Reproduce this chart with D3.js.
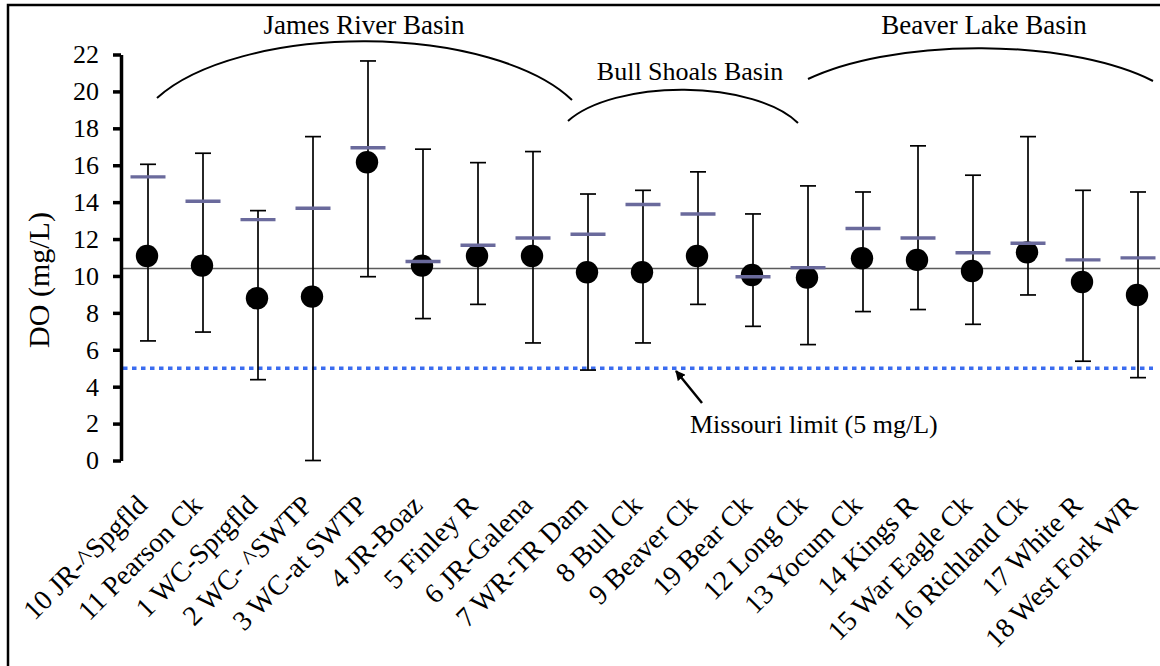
<!DOCTYPE html>
<html>
<head>
<meta charset="utf-8">
<script src="https://cdn.jsdelivr.net/npm/d3@7"></script>
<style>
  html, body { margin: 0; padding: 0; background: #fff; }
  svg { display: block; }
  svg text { font-family: "Liberation Serif", "Times New Roman", serif !important; fill: #000; }
</style>
</head>
<body>
<svg id="chart" width="1160" height="666"></svg>
<script>
// ---- data ----
const categories = ["10 JR-^Spgfld", "11 Pearson Ck", "1 WC-Sprgfld", "2 WC- ^SWTP", "3 WC-at SWTP",
  "4 JR-Boaz", "5 Finley R", "6 JR-Galena", "7 WR-TR Dam", "8 Bull Ck", "9 Beaver Ck", "19 Bear Ck",
  "12 Long Ck", "13 Yocum Ck", "14 Kings R", "15 War Eagle Ck", "16 Richland Ck", "17 White R", "18 West Fork WR"];
const medianValues = [11.08, 10.56, 8.79, 8.88, 16.16, 10.56, 11.08, 11.08, 10.2, 10.2, 11.08, 10.05, 9.91, 10.96, 10.87, 10.27, 11.28, 9.67, 8.97];
const meanValues   = [15.37, 14.05, 13.05, 13.67, 16.95, 10.78, 11.66, 12.06, 12.26, 13.87, 13.36, 9.96, 10.45, 12.57, 12.06, 11.26, 11.77, 10.87, 10.98];
const maxValues    = [16.05, 16.65, 13.54, 17.55, 21.65, 16.87, 16.14, 16.74, 14.44, 14.64, 15.64, 13.36, 14.88, 14.55, 17.05, 15.46, 17.55, 14.64, 14.55];
const minValues    = [6.48, 6.96, 4.38, 0, 9.96, 7.69, 8.46, 6.37, 4.9, 6.37, 8.46, 7.27, 6.28, 8.07, 8.18, 7.38, 8.97, 5.38, 4.49];
const yTicks = [0, 2, 4, 6, 8, 10, 12, 14, 16, 18, 20, 22];
const overallMean = 10.4;
const missouriLimit = 5;
const basinLabels = ["James River Basin", "Bull Shoals Basin", "Beaver Lake Basin"];
const yTitle = "DO (mg/L)";
const limitLabel = "Missouri limit (5 mg/L)";

// ---- layout ----
const svg = d3.select("#chart");
const axisX = 121;
const x = d3.scaleBand().domain(categories).range([120.5, 1165.5]).paddingInner(0).paddingOuter(0);
const cx = c => x(c) + x.bandwidth() / 2;
const y = d3.scaleLinear().domain([0, 22]).range([460.5, 54.5]);

const rows = categories.map((c, i) => ({ c, med: medianValues[i], mean: meanValues[i], max: maxValues[i], min: minValues[i] }));

// outer border (cropped on right/bottom)
svg.append("rect").attr("x", 8).attr("y", 5).attr("width", 1200).attr("height", 700)
  .attr("fill", "none").attr("stroke", "#000").attr("stroke-width", 2.5);

// overall mean line
svg.append("line").attr("x1", axisX).attr("x2", 1160).attr("y1", y(overallMean)).attr("y2", y(overallMean))
  .attr("stroke", "#5a5a5a").attr("stroke-width", 1.6);

// Missouri limit dotted
svg.append("line").attr("x1", axisX + 2).attr("x2", 1153).attr("y1", y(missouriLimit)).attr("y2", y(missouriLimit))
  .attr("stroke", "#3a6cf0").attr("stroke-width", 3.5).attr("stroke-dasharray", "4.5,4.5");

// error bars
const eb = svg.append("g").attr("stroke", "#000").attr("stroke-width", 1.7);
eb.selectAll("line.v").data(rows).join("line").attr("class", "v")
  .attr("x1", d => cx(d.c)).attr("x2", d => cx(d.c)).attr("y1", d => y(d.max)).attr("y2", d => y(d.min));
eb.selectAll("line.t").data(rows).join("line").attr("class", "t")
  .attr("x1", d => cx(d.c) - 8).attr("x2", d => cx(d.c) + 8).attr("y1", d => y(d.max)).attr("y2", d => y(d.max));
eb.selectAll("line.b").data(rows).join("line").attr("class", "b")
  .attr("x1", d => cx(d.c) - 8).attr("x2", d => cx(d.c) + 8).attr("y1", d => y(d.min)).attr("y2", d => y(d.min));

// median dots
svg.append("g").selectAll("circle").data(rows).join("circle")
  .attr("cx", d => cx(d.c) - 1).attr("cy", d => y(d.med)).attr("r", 11.2).attr("fill", "#000");

// mean dashes
svg.append("g").selectAll("line").data(rows).join("line")
  .attr("x1", d => cx(d.c) - 17.5).attr("x2", d => cx(d.c) + 17.5)
  .attr("y1", d => y(d.mean)).attr("y2", d => y(d.mean))
  .attr("stroke", "#6a6a9c").attr("stroke-width", 3.4);

// y axis
const yAxis = svg.append("g").attr("transform", `translate(${axisX},0)`)
  .call(d3.axisLeft(y).tickValues(yTicks).tickSize(8).tickSizeOuter(0).tickPadding(14));
yAxis.attr("font-family", null).attr("font-size", null);
yAxis.select(".domain").attr("stroke", "#000").attr("stroke-width", 3.5);
yAxis.selectAll(".tick line").attr("stroke", "#000").attr("stroke-width", 3.5);
yAxis.selectAll(".tick text").style("font-size", "26px");

// y title
svg.append("text").attr("transform", "translate(49,280) rotate(-90)").attr("text-anchor", "middle")
  .style("font-size", "30px").text(yTitle);

// x axis labels
const xAxis = svg.append("g").attr("transform", "translate(0,500)")
  .call(d3.axisBottom(x).tickSize(0).tickPadding(0));
xAxis.attr("font-family", null).attr("font-size", null);
xAxis.select(".domain").remove();
xAxis.selectAll(".tick text")
  .style("font-size", "28px")
  .attr("x", 0).attr("y", 0).attr("dy", "0.35em").attr("text-anchor", "end")
  .attr("transform", "translate(-6,0) rotate(-45)");

// basin arcs
const arcs = [
  { p: "M157,98 A229,100 0 0,1 572,100" },
  { p: "M568,121 A127,56 0 0,1 798,123" },
  { p: "M808,79 A216,80 0 0,1 1153,81" }
];
svg.append("g").selectAll("path").data(arcs).join("path").attr("d", d => d.p)
  .attr("fill", "none").attr("stroke", "#000").attr("stroke-width", 2);

const basinPos = [[364, 34, 27], [690, 80, 26], [984, 34, 27]];
svg.append("g").selectAll("text").data(basinLabels).join("text")
  .attr("x", (d, i) => basinPos[i][0]).attr("y", (d, i) => basinPos[i][1])
  .style("font-size", (d, i) => basinPos[i][2] + "px").attr("text-anchor", "middle").text(d => d);

// arrow and limit label
svg.append("defs").append("marker").attr("id", "ah").attr("viewBox", "0 0 10 10")
  .attr("refX", 9).attr("refY", 5).attr("markerWidth", 4).attr("markerHeight", 4).attr("orient", "auto")
  .append("path").attr("d", "M0,0 L10,5 L0,10 z").attr("fill", "#000");
svg.append("line").attr("x1", 702).attr("y1", 403).attr("x2", 676).attr("y2", 371)
  .attr("stroke", "#000").attr("stroke-width", 2.5).attr("marker-end", "url(#ah)");
svg.append("text").attr("x", 690).attr("y", 433).style("font-size", "26px").text(limitLabel);
</script>
</body>
</html>
